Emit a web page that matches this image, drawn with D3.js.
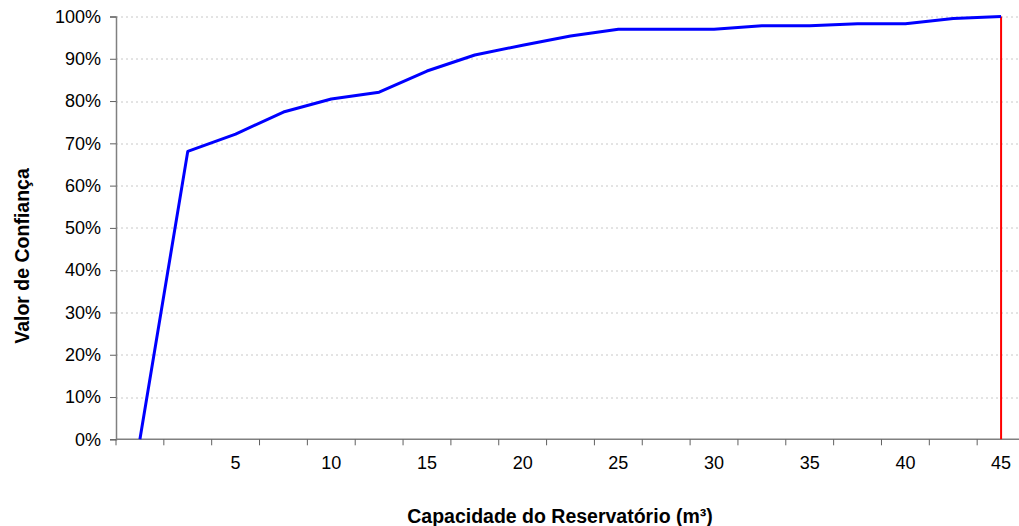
<!DOCTYPE html>
<html>
<head>
<meta charset="utf-8">
<script src="https://cdn.jsdelivr.net/npm/d3@7"></script>
<style>
  body { margin: 0; background: #fff; }
  svg { display: block; font-family: "Liberation Sans", Arial, sans-serif; }
</style>
</head>
<body>
<svg id="chart" width="1019" height="526"></svg>
<script>
// capacity categories (m³)
const categories = [0, 2.5, 5, 7.5, 10, 12.5, 15, 17.5, 20, 22.5, 25, 27.5, 30, 32.5, 35, 37.5, 40, 42.5, 45];
// confidence value (%)
const confidence = [0, 68.1, 72.2, 77.4, 80.5, 82.1, 87.1, 90.9, 93.2, 95.4, 97.0, 97.0, 97.0, 97.8, 97.8, 98.3, 98.3, 99.5, 100];
const xTickLabels = [5, 10, 15, 20, 25, 30, 35, 40, 45];
const yTicks = [0, 10, 20, 30, 40, 50, 60, 70, 80, 90, 100];
const markerCategory = 45;

const margin = { top: 16.5, left: 116 };
const plotW = 909, plotH = 422.8;

const svg = d3.select('#chart');
const g = svg.append('g').attr('transform', 'translate(' + margin.left + ',' + margin.top + ')');

const x = d3.scaleBand().domain(categories).range([0, plotW]);
const y = d3.scaleLinear().domain([0, 100]).range([plotH, 0]);
const cx = (c) => x(c) + x.bandwidth() / 2;

// gridlines
g.selectAll('.grid')
  .data(yTicks.filter((t) => t > 0))
  .enter()
  .append('line')
  .attr('x1', 0)
  .attr('x2', plotW)
  .attr('y1', (d) => Math.round(y(d)) + 0.5)
  .attr('y2', (d) => Math.round(y(d)) + 0.5)
  .attr('stroke', '#c8c8c8')
  .attr('stroke-dasharray', '2,3');

// y axis
const yAxis = g.append('g')
  .call(d3.axisLeft(y).tickValues(yTicks).tickSize(6).tickPadding(9).tickFormat((d) => d + '%'));
yAxis.select('.domain').attr('stroke', '#808080').attr('stroke-width', 1.5);
yAxis.selectAll('.tick line').attr('stroke', '#606060');
yAxis.selectAll('text').attr('font-size', 18).attr('fill', '#000');

// x axis: ticks between categories
const xg = g.append('g').attr('transform', 'translate(0,' + plotH + ')');
xg.append('line').attr('x1', 0).attr('x2', plotW).attr('stroke', '#808080').attr('stroke-width', 1.5);
xg.selectAll('.xtick')
  .data(categories.concat([null]))
  .enter()
  .append('line')
  .attr('x1', (d, i) => i * x.bandwidth())
  .attr('x2', (d, i) => i * x.bandwidth())
  .attr('y1', 0)
  .attr('y2', 6)
  .attr('stroke', '#606060');
xg.selectAll('.xlabel')
  .data(xTickLabels)
  .enter()
  .append('text')
  .attr('x', (d) => cx(d))
  .attr('y', 30)
  .attr('text-anchor', 'middle')
  .attr('font-size', 18)
  .text((d) => d);

// red marker line
g.append('line')
  .attr('x1', cx(markerCategory))
  .attr('x2', cx(markerCategory))
  .attr('y1', y(100))
  .attr('y2', y(0))
  .attr('stroke', '#ff0000')
  .attr('stroke-width', 2);

// confidence line
const line = d3.line()
  .x((d, i) => cx(categories[i]))
  .y((d) => y(d));
g.append('path')
  .datum(confidence)
  .attr('d', line)
  .attr('fill', 'none')
  .attr('stroke', '#0000ff')
  .attr('stroke-width', 3)
  .attr('stroke-linejoin', 'round');

// axis titles
svg.append('text')
  .attr('x', 560)
  .attr('y', 523)
  .attr('text-anchor', 'middle')
  .attr('font-size', 19.5)
  .attr('font-weight', 'bold')
  .text('Capacidade do Reservatório (m³)');

svg.append('text')
  .attr('transform', 'translate(29,256) rotate(-90)')
  .attr('text-anchor', 'middle')
  .attr('font-size', 19.5)
  .attr('font-weight', 'bold')
  .text('Valor de Confiança');
</script>
</body>
</html>
